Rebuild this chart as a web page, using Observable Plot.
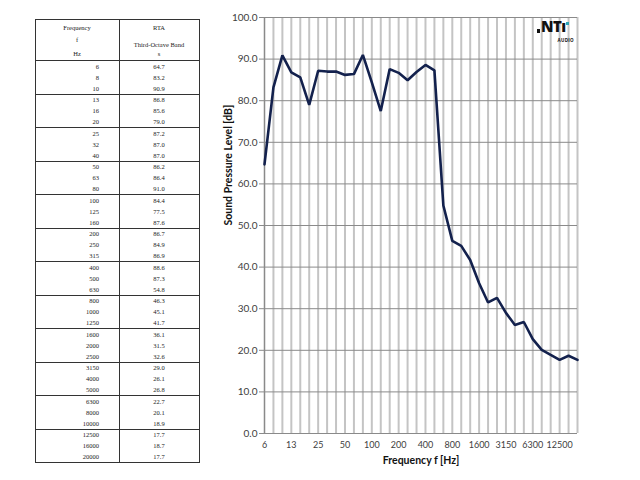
<!DOCTYPE html>
<html>
<head>
<meta charset="utf-8">
<script src="https://cdn.jsdelivr.net/npm/d3@7"></script>
<script src="https://cdn.jsdelivr.net/npm/@observablehq/plot@0.6"></script>
<style>
  html, body { margin: 0; padding: 0; background: #fff; }
  #wrap { position: relative; width: 640px; height: 480px; overflow: hidden; }
  #chart { position: absolute; left: 0; top: 0; }
  #table { position: absolute; left: 0; top: 0; width: 640px; height: 480px;
           font-family: "Liberation Serif", "DejaVu Serif", serif; font-size: 6.5px; color: #222; }
  #table div { position: absolute; }
  .cell { line-height: 11px; white-space: nowrap; }
  .hl { background: #333; }
  #logo { position: absolute; left: 535px; top: 21px; width: 42px; height: 22px; font-family: "Open Sans", sans-serif; color: #111; }
  #logo .main { position: absolute; left: 6px; top: -1px; font-weight: 800; font-size: 15px; line-height: 13px; letter-spacing: -0.6px; white-space: nowrap; }
  #logo .dot { position: absolute; left: 30.5px; top: 1px; width: 3px; height: 3px; background: #2aa3b5; }
  #logo .sub { position: absolute; right: 3px; top: 17px; font-size: 4.5px; font-weight: 700; letter-spacing: 0.3px; line-height: 5px; }
  #logo .b1 { position: absolute; left: 2px; top: 8px; width: 3px; height: 4px; background: #111; }
</style>
</head>
<body>
<div id="wrap">
  <div id="chart"></div>
  <div id="table"></div>
  <div id="logo"><div class="b1"></div><span class="main">NTı</span><div class="dot"></div><span class="sub">AUDIO</span></div>
</div>
<script>
const freqs = [6, 8, 10, 13, 16, 20, 25, 32, 40, 50, 63, 80, 100, 125, 160, 200, 250, 315,
               400, 500, 630, 800, 1000, 1250, 1600, 2000, 2500, 3150, 4000, 5000, 6300, 8000,
               10000, 12500, 16000, 20000];
const rta = [64.7, 83.2, 90.9, 86.8, 85.6, 79.0, 87.2, 87.0, 87.0, 86.2, 86.4, 91.0, 84.4, 77.5,
             87.6, 86.7, 84.9, 86.9, 88.6, 87.3, 54.8, 46.3, 45.1, 41.7, 36.1, 31.5, 32.6, 29.0,
             26.1, 26.8, 22.7, 20.1, 18.9, 17.7, 18.7, 17.7];
const xTickLabels = ["6", "13", "25", "50", "100", "200", "400", "800", "1600", "3150", "6300", "12500"];
const yTicks = [0, 10, 20, 30, 40, 50, 60, 70, 80, 90, 100];
const headFreq = ["Frequency", "f", "Hz"];
const headRta = ["RTA", "Third-Octave Band", "s"];

const data = freqs.map((f, i) => ({f: String(f), v: rta[i]}));
const domain = freqs.map(String);

const chart = Plot.plot({
  width: 640,
  height: 480,
  marginLeft: 264,
  marginRight: 63,
  marginTop: 17,
  marginBottom: 47,
  style: {fontFamily: "Lato, 'Open Sans', sans-serif", fontSize: "10px", color: "#404040", background: "#fff"},
  x: {type: "point", domain, padding: 0},
  y: {domain: [0, 100]},
  marks: [
    Plot.ruleX(domain, {x: d => d, stroke: "#c4c4c4", strokeWidth: 2}),
    Plot.ruleY(yTicks, {y: d => d, stroke: "#8a8a8a", strokeWidth: 1}),
    Plot.ruleX([domain[0]], {x: d => d, stroke: "#8a8a8a", strokeWidth: 1}),
    Plot.axisY({ticks: yTicks, tickFormat: d3.format(".1f"), tickSize: 5, tickPadding: 2,
                stroke: "#8a8a8a", fill: "#404040", fontSize: 10, label: null}),
    Plot.axisX({ticks: xTickLabels, tickSize: 0, tickPadding: 8, fill: "#404040", fontSize: 9, label: null}),
    Plot.line(data, {x: "f", y: "v", stroke: "#13214d", strokeWidth: 2.6, strokeLinejoin: "miter"}),
    Plot.text(["Sound Pressure Level [dB]"], {frameAnchor: "left", dx: -36, rotate: -90,
                fontWeight: "bold", fontSize: 10.5, fill: "#111"}),
    Plot.text(["Frequency f [Hz]"], {frameAnchor: "bottom", dy: 30, fontWeight: "bold", fontSize: 10.5, fill: "#111"})
  ]
});
document.getElementById("chart").appendChild(chart);

// table drawn from the same arrays
const T = document.getElementById("table");
const L = 35, M = 119, R = 199, top0 = 19, headB = 60, rowH = (462 - 60) / freqs.length;
function box(x, y, w, h, cls) {
  const d = document.createElement("div");
  d.className = cls || "hl";
  Object.assign(d.style, {left: x + "px", top: y + "px", width: w + "px", height: h + "px"});
  T.appendChild(d); return d;
}
function text(str, x, y, align) {
  const d = document.createElement("div");
  d.className = "cell"; d.textContent = str;
  d.style.top = (y - 5.5) + "px";
  if (align === "right") { d.style.right = (640 - x) + "px"; }
  else { d.style.left = (x - 50) + "px"; d.style.width = "100px"; d.style.textAlign = "center"; }
  T.appendChild(d);
}
const bottom = headB + rowH * freqs.length;
box(L, top0, 1, bottom - top0);
box(M, top0, 1, bottom - top0);
box(R, top0, 1, bottom - top0);
box(L, top0, R - L + 1, 1);
box(L, headB, R - L + 1, 1);
for (let i = 3; i < freqs.length; i += 3) box(L, headB + i * rowH, R - L + 1, 1);
box(L, bottom, R - L + 1, 1);
[27, 39, 53].forEach((y, k) => text(headFreq[k], 77, y, "center"));
[27, 44, 53].forEach((y, k) => text(headRta[k], 159, y, "center"));
freqs.forEach((f, i) => {
  const y = headB + (i + 0.5) * rowH + 0.5;
  text(String(f), 99, y, "right");
  text(rta[i].toFixed(1), 159, y, "center");
});
</script>
</body>
</html>
